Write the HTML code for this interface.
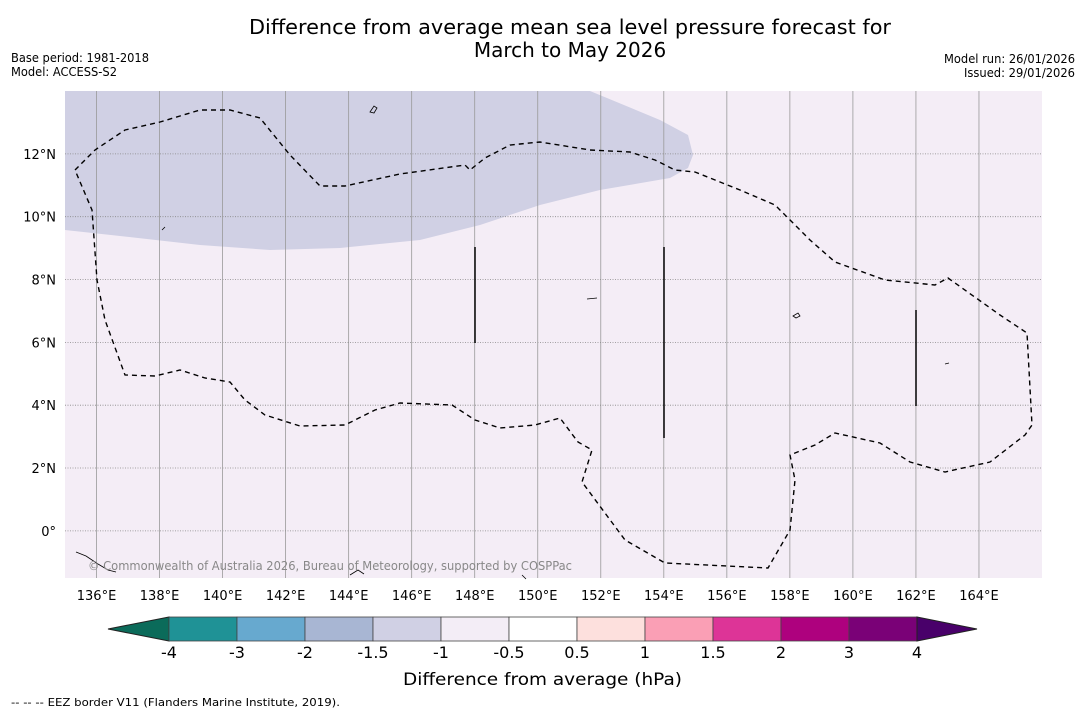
<!DOCTYPE html>
<html><head><meta charset="utf-8"><style>
body{margin:0;background:#fff;width:1085px;height:713px;overflow:hidden;font-family:"Liberation Sans","DejaVu Sans",sans-serif}
</style></head><body>
<svg width="1085" height="713" xmlns="http://www.w3.org/2000/svg" font-family="DejaVu Sans, Liberation Sans, sans-serif">
<text x="570" y="34" text-anchor="middle" font-size="20" textLength="642" lengthAdjust="spacingAndGlyphs">Difference from average mean sea level pressure forecast for</text>
<text x="570" y="57" text-anchor="middle" font-size="20">March to May 2026</text>
<text x="11" y="62" font-size="12" textLength="138" lengthAdjust="spacingAndGlyphs">Base period: 1981-2018</text>
<text x="11" y="76" font-size="12" textLength="106" lengthAdjust="spacingAndGlyphs">Model: ACCESS-S2</text>
<text x="944" y="63" font-size="12" textLength="131" lengthAdjust="spacingAndGlyphs">Model run: 26/01/2026</text>
<text x="964" y="77" font-size="12" textLength="111" lengthAdjust="spacingAndGlyphs">Issued: 29/01/2026</text>
<g id="map">
<rect x="65" y="91" width="977" height="487" fill="#f4edf6"/>
<polygon fill="#d0d0e4" points="65,91 590,91 660,120 688,135 693,155 688,168 670,178 600,190 540,205 480,225 420,240 340,248 270,250 200,245 120,236 65,230"/>
<g id="grid"></g>
<path fill="none" stroke="#000" stroke-width="1.4" stroke-dasharray="5,4" d="M75,170 L95,150 L125,130 L160,122 L200,110 L230,110 L260,118 L290,155 L320,186 L345,186 L400,174 L465,165 L470,170 L485,158 L510,145 L540,142 L590,150 L630,152 L655,160 L675,170 L695,172 L740,190 L775,205 L810,240 L835,262 L885,280 L935,285 L948,278 L1000,315 L1027,333 L1032,425 L1025,435 L990,462 L945,472 L910,462 L880,443 L835,433 L815,445 L790,455 L795,480 L790,530 L768,568 L665,563 L625,540 L582,482 L592,450 L578,442 L560,418 L535,425 L500,428 L475,420 L452,405 L400,403 L375,410 L345,425 L300,426 L265,415 L245,400 L230,382 L205,378 L180,370 L155,376 L125,375 L105,320 L97,280 L92,210 L75,170"/>
<g stroke="#000" stroke-width="1.5">
<line x1="475" y1="247" x2="475" y2="343"/><line x1="664" y1="247" x2="664" y2="438"/><line x1="916" y1="310" x2="916" y2="406"/>
</g>
<g fill="none" stroke="#000" stroke-width="0.8">
<path d="M370,112 l4,-6 l3,2 l-3,5 z"/><path d="M162,230 l3,-3"/><path d="M587,299 l10,-1"/><path d="M793,316 l5,-3 l2,3 l-4,2 z"/><path d="M945,364 l4,-1"/>
<path d="M76,552 l10,4 l12,8 l10,6 l8,2"/><path d="M350,575 l8,-5 l6,4"/><path d="M522,575 l4,4"/>
</g>
<text x="88" y="570" font-size="12" fill="#888" textLength="484" lengthAdjust="spacingAndGlyphs">© Commonwealth of Australia 2026, Bureau of Meteorology, supported by COSPPac</text>
</g>
<g id="xlabels" font-size="13" text-anchor="middle"></g>
<g id="ylabels" font-size="13" text-anchor="end"></g>
<g id="cbar"></g>
<text x="403" y="685" font-size="17" textLength="279" lengthAdjust="spacingAndGlyphs">Difference from average (hPa)</text>
<text x="11" y="706" font-size="11" textLength="329" lengthAdjust="spacingAndGlyphs">--  --  -- EEZ border V11 (Flanders Marine Institute, 2019).</text>
</svg>
<script>
const lonTicks=[136,138,140,142,144,146,148,150,152,154,156,158,160,162,164];
const latTicks=[0,2,4,6,8,10,12];
const cbarLevels=["-4","-3","-2","-1.5","-1","-0.5","0.5","1","1.5","2","3","4"];
const cbarColors=["#1f9296","#67a9cf","#a8b6d3","#d0d0e4","#f3edf6","#ffffff","#fde0dd","#fa9fb5","#dd3497","#ae017e","#7a0177"];
const NS="http://www.w3.org/2000/svg";
const x0=65,x1=1042,lon0=135,lon1=166,y0=91,y1=578,lat0=14,lat1=-1.5;
const xs=l=>x0+(l-lon0)/(lon1-lon0)*(x1-x0);
const ys=l=>y0+(l-lat0)/(lat1-lat0)*(y1-y0);
function mk(t,a,p){const e=document.createElementNS(NS,t);for(const k in a)e.setAttribute(k,a[k]);p.appendChild(e);return e;}
const grid=document.getElementById('grid'),xl=document.getElementById('xlabels'),yl=document.getElementById('ylabels');
lonTicks.forEach(l=>{const x=xs(l);
 const g=mk('line',{x1:x,x2:x,y1:y0,y2:y1,stroke:'#999','stroke-width':0.8},grid);
 
 
 const t=mk('text',{x:x,y:600},xl);t.textContent=l+'°E';
 
 });
latTicks.forEach(l=>{const y=ys(l);
 const g=mk('line',{x1:x0,x2:x1,y1:y,y2:y,stroke:'#888','stroke-width':0.8,'stroke-dasharray':'1,1.5'},grid);
 
 
 const t=mk('text',{x:56,y:y+5},yl);t.textContent=l===0?'0°':l+'°N';
 
 });
const cb=document.getElementById('cbar');
const cx0=169,cw=68,cy=617,ch=24;
const lt=mk('polygon',{points:`108,${cy+ch/2} ${cx0},${cy} ${cx0},${cy+ch}`,fill:'#0b6b5a',stroke:'#222','stroke-width':1},cb);


cbarColors.forEach((c,i)=>{const r=mk('rect',{x:cx0+i*cw,y:cy,width:cw,height:ch,fill:c,stroke:'#444','stroke-width':0.8},cb);
 
 });
const xe=cx0+cbarColors.length*cw;
const rt=mk('polygon',{points:`${xe},${cy} ${xe+60},${cy+ch/2} ${xe},${cy+ch}`,fill:'#49006a',stroke:'#222','stroke-width':1},cb);


cbarLevels.forEach((v,i)=>{const t=mk('text',{x:cx0+i*cw,y:658,'font-size':16,'text-anchor':'middle'},cb);t.textContent=v;
 
 });
</script>
</body></html>
